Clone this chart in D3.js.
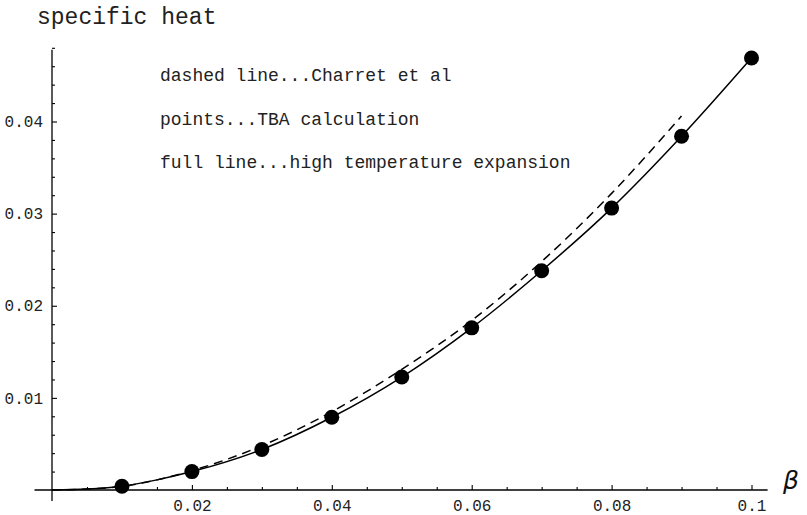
<!DOCTYPE html>
<meta charset="utf-8">
<head>
  <title>specific heat</title>
  <script src="https://d3js.org/d3.v7.min.js"></script>
  <style>
    body { margin: 0; background: #fff; }
    .mono { font-family: "Liberation Mono", "Courier New", monospace; fill: #222; }
    .axis path { display: none; }
    .axis line { stroke: #000; stroke-width: 1.1; }
  </style>
</head>
<body>
<div id="chart"></div>
<script>
// data
var beta        = [0.01, 0.02, 0.03, 0.04, 0.05, 0.06, 0.07, 0.08, 0.09, 0.1];
var tbaPoints   = [0.0004, 0.0020, 0.0044, 0.0079, 0.01226, 0.0176, 0.0238, 0.0306, 0.0384, 0.0469];

var fullX       = [0, 0.005, 0.01, 0.015, 0.02, 0.03, 0.04, 0.05, 0.06, 0.07, 0.08, 0.09, 0.1];
var fullY       = [0, 0.0001, 0.0004, 0.0011, 0.0020, 0.0044, 0.0079, 0.01226, 0.0176, 0.0238, 0.0306, 0.0384, 0.0469];

var dashedX     = [0, 0.005, 0.01, 0.015, 0.02, 0.03, 0.04, 0.05, 0.06, 0.07, 0.08, 0.09];
var dashedY     = [0, 0.0001, 0.0004, 0.0011, 0.0021, 0.0048, 0.0085, 0.0131, 0.0184, 0.0248, 0.0322, 0.0406];

var xTicks      = [0.02, 0.04, 0.06, 0.08, 0.1];
var xTickLabels = ["0.02", "0.04", "0.06", "0.08", "0.1"];
var yTicks      = [0.01, 0.02, 0.03, 0.04];
var yTickLabels = ["0.01", "0.02", "0.03", "0.04"];
var xMinor      = [0.005, 0.01, 0.015, 0.025, 0.03, 0.035, 0.045, 0.05, 0.055, 0.065, 0.07, 0.075, 0.085, 0.09, 0.095];
var yMinor      = [0.002, 0.004, 0.006, 0.008, 0.012, 0.014, 0.016, 0.018, 0.022, 0.024, 0.026, 0.028,
                   0.032, 0.034, 0.036, 0.038, 0.042, 0.044, 0.046, 0.048];

var legendLines = ["dashed line...Charret et al",
                   "points...TBA calculation",
                   "full line...high temperature expansion"];

var width = 807, height = 515;

var svg = d3.select("#chart").append("svg")
    .attr("width", width)
    .attr("height", height);

var x = d3.scaleLinear().domain([0, 0.1]).range([52, 751.5]);
var y = d3.scaleLinear().domain([0, 0.04]).range([490, 121.5]);

// axis lines
svg.append("line")
    .attr("x1", x(-0.0025)).attr("x2", x(0.1023))
    .attr("y1", y(0)).attr("y2", y(0))
    .attr("stroke", "#000").attr("stroke-width", 1.3);
svg.append("line")
    .attr("x1", x(0)).attr("x2", x(0))
    .attr("y1", y(-0.0012)).attr("y2", y(0.0478))
    .attr("stroke", "#000").attr("stroke-width", 1.3);

// x axis, ticks pointing up
svg.append("g").attr("class", "axis mono")
    .attr("transform", "translate(0," + y(0) + ")")
    .call(d3.axisBottom(x).tickValues(xTicks)
        .tickFormat(function(d, i) { return xTickLabels[i]; })
        .tickSizeInner(-5).tickSizeOuter(0).tickPadding(10));
svg.append("g").attr("class", "axis")
    .attr("transform", "translate(0," + y(0) + ")")
    .call(d3.axisBottom(x).tickValues(xMinor).tickFormat("")
        .tickSizeInner(-3).tickSizeOuter(0));

// y axis, ticks pointing right
svg.append("g").attr("class", "axis mono")
    .attr("transform", "translate(" + x(0) + ",0)")
    .call(d3.axisLeft(y).tickValues(yTicks)
        .tickFormat(function(d, i) { return yTickLabels[i]; })
        .tickSizeInner(-5).tickSizeOuter(0).tickPadding(9));
svg.append("g").attr("class", "axis")
    .attr("transform", "translate(" + x(0) + ",0)")
    .call(d3.axisLeft(y).tickValues(yMinor).tickFormat("")
        .tickSizeInner(-3).tickSizeOuter(0));

svg.selectAll(".axis text")
    .attr("font-family", "Liberation Mono, Courier New, monospace")
    .attr("font-size", 16)
    .attr("fill", "#222");

// curves
var line = d3.line()
    .x(function(d) { return x(d[0]); })
    .y(function(d) { return y(d[1]); })
    .curve(d3.curveMonotoneX);

svg.append("path")
    .datum(dashedX.map(function(v, i) { return [v, dashedY[i]]; }))
    .attr("d", line)
    .attr("fill", "none")
    .attr("stroke", "#000")
    .attr("stroke-width", 1.5)
    .attr("stroke-dasharray", "9,6");

svg.append("path")
    .datum(fullX.map(function(v, i) { return [v, fullY[i]]; }))
    .attr("d", line)
    .attr("fill", "none")
    .attr("stroke", "#000")
    .attr("stroke-width", 1.5);

// TBA points
svg.selectAll("circle.pt")
    .data(beta)
    .enter().append("circle")
    .attr("class", "pt")
    .attr("cx", function(d) { return x(d); })
    .attr("cy", function(d, i) { return y(tbaPoints[i]); })
    .attr("r", 7.5)
    .attr("fill", "#000");

// texts
svg.append("text")
    .attr("class", "mono")
    .attr("x", 37).attr("y", 24)
    .attr("font-size", 23)
    .text("specific heat");

svg.selectAll("text.legend")
    .data(legendLines)
    .enter().append("text")
    .attr("class", "legend mono")
    .attr("x", 160)
    .attr("y", function(d, i) { return 81 + i * 43.5; })
    .attr("font-size", 18)
    .text(function(d) { return d; });

svg.append("text")
    .attr("x", 783).attr("y", 489)
    .attr("font-family", "DejaVu Sans, sans-serif")
    .attr("font-style", "italic")
    .attr("font-size", 25)
    .attr("fill", "#111")
    .text("β");
</script>
</body>
</html>
